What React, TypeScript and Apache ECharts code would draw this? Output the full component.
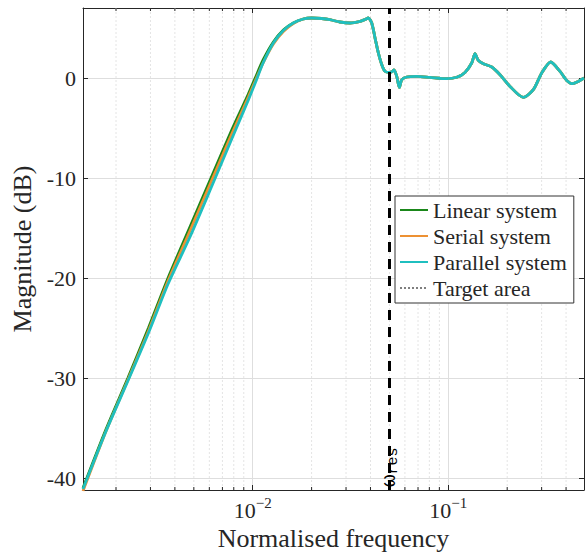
import React, { useEffect, useRef } from 'react';
import * as echarts from 'echarts';

// Rising part (frequency grid shared by the three systems)
const riseFreq = [0.001356, 0.00178, 0.0023, 0.00293, 0.00369, 0.00475, 0.00612, 0.00785, 0.0095, 0.0103, 0.0113, 0.01275, 0.01434, 0.01613, 0.01814];
const linearRise = [-41.0, -35.1, -30.0, -25.0, -20.0, -15.0, -10.0, -5.1, -1.6, 0.0, 1.8, 3.6, 4.8, 5.5, 5.9];
const serialRise = [-41.3, -35.3, -30.2, -25.3, -20.3, -15.4, -10.4, -5.5, -1.9, -0.3, 1.5, 3.4, 4.65, 5.45, 5.9];
const parallelRise = [-41.1, -35.3, -30.3, -25.5, -20.6, -16.0, -11.0, -6.0, -2.2, -0.5, 1.5, 3.5, 4.75, 5.5, 5.9];

// Upper part (identical for the three systems)
const topFreq = [0.02, 0.0225, 0.0248, 0.0279, 0.0314, 0.0354, 0.0375, 0.039, 0.0406, 0.0422, 0.0439, 0.0457, 0.0475, 0.0499, 0.0515, 0.0528, 0.0545, 0.0562, 0.0578, 0.0613, 0.0689, 0.0806, 0.0981, 0.1104, 0.1217, 0.1317, 0.1369, 0.1423, 0.151, 0.1667, 0.1838, 0.2067, 0.2417, 0.272, 0.3003, 0.3338, 0.3725, 0.403, 0.4325, 0.4619, 0.494];
const topDb = [6.0, 5.95, 5.83, 5.6, 5.5, 5.66, 5.85, 6.0, 5.5, 4.0, 2.5, 1.33, 0.66, 0.56, 0.62, 0.8, 0.16, -0.94, -0.17, 0.1, 0.16, 0.06, -0.07, 0.07, 0.56, 1.5, 2.43, 1.76, 1.43, 1.1, 0.33, -0.84, -1.94, -1.17, 0.5, 1.6, 0.66, -0.24, -0.57, -0.34, 0.0];

const targetArea = [0.00436, 0.00488];
const omegaRes = 0.0499;
const minorFreqs = [0.002, 0.003, 0.004, 0.005, 0.006, 0.007, 0.008, 0.009, 0.02, 0.03, 0.04, 0.05, 0.06, 0.07, 0.08, 0.09, 0.2, 0.3, 0.4];
const seriesNames = ['Linear system', 'Serial system', 'Parallel system', 'Target area'];

const X_MIN = 0.001356;
const X_MAX = 0.494;
const Y_MIN = -41.2;
const Y_MAX = 7;

const SERIF = '"Liberation Serif", "Times New Roman", serif';
const MONO = '"Liberation Mono", "DejaVu Sans Mono", monospace';
const INK = '#262626';
const GRID = '#dedede';

export default function App() {
  const ref = useRef<HTMLDivElement>(null);
  useEffect(() => {
    const chart = echarts.init(ref.current!, null, { renderer: 'svg' });
    const mk = (rise: number[]) => [
      ...riseFreq.map((f, i) => [f, rise[i]]),
      ...topFreq.map((f, i) => [f, topDb[i]]),
    ];
    const isPow10 = (v: number) => {
      const l = Math.log10(v);
      return Math.abs(l - Math.round(l)) < 1e-6;
    };
    const lineSeries = (name: string, data: number[][], color: string) => ({
      type: 'line',
      name,
      data,
      symbol: 'none',
      smooth: 0.25,
      lineStyle: { color, width: 2.8 },
      itemStyle: { color },
      xAxisIndex: 0,
      yAxisIndex: 0,
    });
    chart.setOption({
      animation: false,
      backgroundColor: '#fff',
      grid: { left: 83, right: 1, top: 8, bottom: 65, containLabel: false, outerBoundsMode: 'none' },
      legend: {
        data: seriesNames,
        orient: 'vertical',
        left: 395,
        top: 196,
        itemWidth: 28,
        itemHeight: 14,
        itemGap: 4,
        padding: [3, 7, 4, 4],
        backgroundColor: '#fff',
        borderColor: '#333',
        borderWidth: 1,
        borderRadius: 0,
        selectedMode: false,
        itemStyle: { opacity: 0, borderWidth: 0 },
        textStyle: { fontFamily: SERIF, fontSize: 22, color: INK, lineHeight: 22 },
      },
      xAxis: [
        {
          type: 'log',
          logBase: 10,
          min: X_MIN,
          max: X_MAX,
          position: 'bottom',
          axisLine: { show: true, onZero: false, lineStyle: { color: INK, width: 1 } },
          axisTick: { show: true, inside: true, length: 5, lineStyle: { color: INK } },
          axisLabel: {
            margin: 5,
            color: INK,
            formatter: (v: number) => {
              if (!isPow10(v)) return '';
              const e = Math.round(Math.log10(v));
              return '{b|10}{s|' + (e < 0 ? '\u2212' : '') + Math.abs(e) + '}';
            },
            rich: {
              b: { fontFamily: SERIF, fontSize: 22, color: INK, lineHeight: 26, verticalAlign: 'bottom' },
              s: { fontFamily: SERIF, fontSize: 15, color: INK, lineHeight: 26, verticalAlign: 'top' },
            },
          },
          splitLine: { show: true, lineStyle: { color: GRID, width: 1 } },
          name: 'Normalised frequency',
          nameLocation: 'middle',
          nameGap: 33,
          nameTextStyle: { fontFamily: SERIF, fontSize: 26, color: INK },
        },
        {
          type: 'log',
          logBase: 10,
          min: X_MIN,
          max: X_MAX,
          position: 'top',
          axisLine: { show: true, onZero: false, lineStyle: { color: INK, width: 1 } },
          axisTick: { show: true, inside: true, length: 5, lineStyle: { color: INK } },
          axisLabel: { show: false },
          splitLine: { show: false },
        },
      ],
      yAxis: [
        {
          type: 'value',
          min: Y_MIN,
          max: Y_MAX,
          position: 'left',
          axisLine: { show: true, onZero: false, lineStyle: { color: INK, width: 1 } },
          axisTick: { show: true, inside: true, length: 5, lineStyle: { color: INK } },
          axisLabel: {
            margin: 7,
            fontFamily: SERIF,
            fontSize: 22,
            color: INK,
            formatter: (v: number) => (Math.abs(v % 10) < 1e-9 ? String(v) : ''),
          },
          splitLine: { show: true, lineStyle: { color: GRID, width: 1 } },
          name: 'Magnitude (dB)',
          nameLocation: 'middle',
          nameGap: 47,
          nameRotate: 90,
          nameTextStyle: { fontFamily: SERIF, fontSize: 26, color: INK },
        },
        {
          type: 'value',
          min: Y_MIN,
          max: Y_MAX,
          position: 'right',
          axisLine: { show: true, onZero: false, lineStyle: { color: INK, width: 1 } },
          axisTick: { show: true, inside: true, length: 5, lineStyle: { color: INK } },
          axisLabel: { show: false },
          splitLine: { show: false },
        },
      ],
      series: [
        {
          type: 'custom',
          name: 'minor',
          xAxisIndex: 0,
          yAxisIndex: 0,
          silent: true,
          clip: false,
          encode: { x: 0, y: 1 },
          data: minorFreqs.map((f) => [f, 0]),
          renderItem: (params: any, api: any) => {
            const x = api.coord([api.value(0), 0])[0];
            const cs = params.coordSys;
            const top = cs.y;
            const bottom = cs.y + cs.height;
            return {
              type: 'group',
              children: [
                { type: 'line', shape: { x1: x, y1: top, x2: x, y2: bottom }, style: { stroke: '#e4e4e4', lineWidth: 1, lineDash: [2, 2] } },
                { type: 'line', shape: { x1: x, y1: bottom, x2: x, y2: bottom - 3 }, style: { stroke: INK, lineWidth: 1 } },
                { type: 'line', shape: { x1: x, y1: top, x2: x, y2: top + 3 }, style: { stroke: INK, lineWidth: 1 } },
              ],
            };
          },
        },
        {
          type: 'line',
          name: 'Target area',
          data: [],
          symbol: 'none',
          xAxisIndex: 0,
          yAxisIndex: 0,
          lineStyle: { color: '#7f7f7f', width: 2, type: [2, 2] },
          itemStyle: { color: '#7f7f7f' },
          markLine: {
            silent: true,
            symbol: ['none', 'none'],
            label: { show: false },
            lineStyle: { color: '#7f7f7f', width: 2, type: [2, 2] },
            data: targetArea.map((f) => ({ xAxis: f })),
          },
        },
        {
          type: 'line',
          name: 'resonance',
          data: [],
          symbol: 'none',
          xAxisIndex: 0,
          yAxisIndex: 0,
          z: 5,
          markLine: {
            silent: true,
            symbol: ['none', 'none'],
            lineStyle: { color: '#000', width: 3, type: [10, 7] },
            label: { show: false },
            data: [{ xAxis: omegaRes }],
          },
        },
        lineSeries('Linear system', mk(linearRise), '#1a871a'),
        lineSeries('Serial system', mk(serialRise), '#ed9133'),
        lineSeries('Parallel system', mk(parallelRise), '#1fbfbf'),
      ],
    });
    const p = chart.convertToPixel({ xAxisIndex: 0, yAxisIndex: 0 }, [omegaRes, Y_MIN]) as number[];
    chart.setOption({
      graphic: [
        {
          type: 'text',
          x: p[0] + 1,
          y: p[1] - 3,
          rotation: Math.PI / 2,
          z: 100,
          style: {
            text: '{w|\u03c9}{s|res}',
            align: 'left',
            verticalAlign: 'middle',
            rich: {
              w: { fontFamily: MONO, fontSize: 21, fill: '#000', lineHeight: 22, verticalAlign: 'top' },
              s: { fontFamily: MONO, fontSize: 15, fill: '#000', lineHeight: 22, verticalAlign: 'bottom' },
            },
          },
        },
      ],
    });
    return () => chart.dispose();
  }, []);
  return (
    <div
      ref={ref}
      style={{ position: 'fixed', left: 0, top: 0, width: 585, height: 555, background: '#fff' }}
    />
  );
}
